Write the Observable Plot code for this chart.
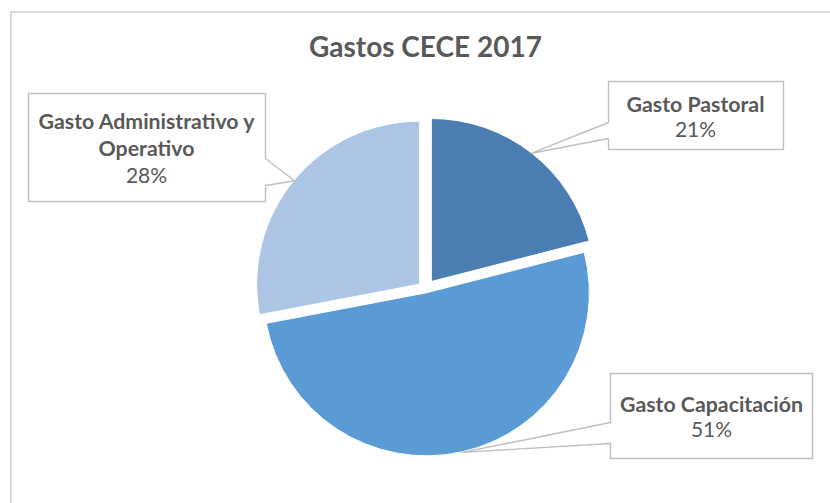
<!DOCTYPE html>
<html><head><meta charset="utf-8">
<script src="https://cdn.jsdelivr.net/npm/d3@7"></script>
<script src="https://cdn.jsdelivr.net/npm/@observablehq/plot@0.6"></script>
<style>
html,body{margin:0;padding:0;background:#fff;overflow:hidden;width:830px;height:503px;}
#chart{position:relative;width:830px;height:503px;}
#frame{position:absolute;left:10px;top:11px;width:900px;height:600px;border:2px solid #d9d9d9;box-sizing:border-box;pointer-events:none;z-index:5;}
figure{margin:0;}
figure h2{margin:0;height:70px;box-sizing:border-box;padding-top:29px;padding-left:21px;font-family:Lato,sans-serif;font-weight:bold;font-size:28px;color:#595959;text-align:center;line-height:34px;}
</style></head>
<body><div id="chart"><div id="frame"></div></div>
<script>
// ---- data ----
const categories = ["Gasto Pastoral", "Gasto Capacitación", "Gasto Administrativo y Operativo"];
const values = [21, 51, 28];
const nameLines = [["Gasto Pastoral"], ["Gasto Capacitación"], ["Gasto Administrativo y", "Operativo"]];
const percentLabels = ["21%", "51%", "28%"];
const colors = ["#4a7eb3", "#5b9bd5", "#adc6e6"];

// ---- layout ----
const W = 830, H = 503, TOP = 70;
const cx = 425.5, cy = 289, R = 163;
const explode = [9.5, 3.9, 7.6];
const callouts = [
  {x0: 608, y0: 81, x1: 783, y1: 149, side: "left", b0: 122, b1: 138, tx: 695, ty: 111, dy: 25},
  {x0: 610, y0: 373, x1: 812, y1: 458, side: "left", b0: 422, b1: 443, tx: 711, ty: 411, dy: 25},
  {x0: 28, y0: 93, x1: 265, y1: 201, side: "right", b0: 158, b1: 185, tx: 146, ty: 128, dy: 27}
];

const rows = categories.map((c, i) => ({category: c, value: values[i], i}));
const arcs = d3.pie().sort(null).value(d => d.value)(rows);
arcs.forEach((a, k) => {
  const mid = (a.startAngle + a.endAngle) / 2;
  const e = explode[a.data.i];
  a.ox = cx + e * Math.sin(mid);
  a.oy = cy - e * Math.cos(mid);
  a.tipX = a.ox + R * Math.sin(mid);
  a.tipY = a.oy - R * Math.cos(mid);
});

// callout polygons
const polyRows = [];
arcs.forEach(a => {
  const c = callouts[a.data.i];
  let pts;
  if (c.side === "left") {
    pts = [[c.x0, c.y0], [c.x1, c.y0], [c.x1, c.y1], [c.x0, c.y1], [c.x0, c.b1], [a.tipX, a.tipY], [c.x0, c.b0], [c.x0, c.y0]];
  } else {
    pts = [[c.x0, c.y0], [c.x1, c.y0], [c.x1, c.b0], [a.tipX, a.tipY], [c.x1, c.b1], [c.x1, c.y1], [c.x0, c.y1], [c.x0, c.y0]];
  }
  pts.forEach(([x, y]) => polyRows.push({category: a.data.category, x, y}));
});

const nameRows = [], pctRows = [];
categories.forEach((cat, i) => {
  const c = callouts[i];
  nameLines[i].forEach((t, j) => nameRows.push({x: c.tx, y: c.ty + j * c.dy, text: t}));
  pctRows.push({x: c.tx, y: c.ty + nameLines[i].length * c.dy, text: percentLabels[i]});
});

function slices(index, scales, values, dims, context) {
  const g = d3.create("svg:g");
  const r = scales.x(cx + R) - scales.x(cx);
  const arc = d3.arc().innerRadius(0).outerRadius(r);
  g.selectAll("path").data(arcs).join("path")
    .attr("transform", a => `translate(${scales.x(a.ox)},${scales.y(a.oy)})`)
    .attr("d", arc)
    .attr("fill", a => colors[a.data.i])
    .attr("stroke", "#ffffff")
    .attr("stroke-width", 1);
  return g.node();
}

const chart = Plot.plot({
  title: "Gastos CECE 2017",
  width: W,
  height: H - TOP,
  margin: 0,
  style: {background: "transparent", overflow: "visible"},
  x: {domain: [0, W], range: [0, W], axis: null},
  y: {domain: [TOP, H], range: [0, H - TOP], axis: null},
  marks: [
    slices,
    Plot.line(polyRows, {x: "x", y: "y", z: "category", fill: "white", stroke: "#bfbfbf", strokeWidth: 1.4, curve: "linear"}),
    Plot.text(nameRows, {x: "x", y: "y", text: "text", lineAnchor: "bottom", textAnchor: "middle", fontSize: 21.3, fontWeight: "bold", fill: "#595959", fontFamily: "Lato"}),
    Plot.text(pctRows, {x: "x", y: "y", text: "text", lineAnchor: "bottom", textAnchor: "middle", fontSize: 21, fill: "#595959", fontFamily: "Lato"})
  ]
});
document.getElementById("chart").appendChild(chart);
</script>
</body></html>
